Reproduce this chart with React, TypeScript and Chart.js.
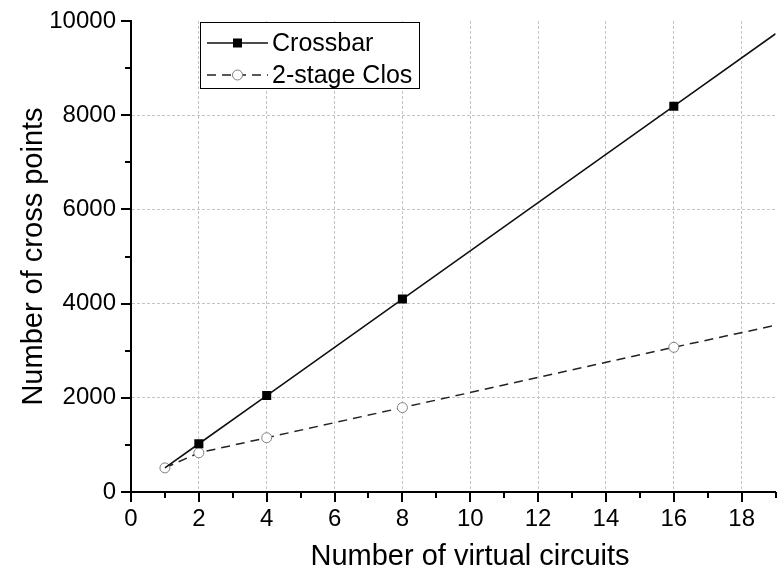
import React, { useEffect, useRef } from 'react';
import { Chart, registerables } from 'chart.js';

Chart.register(...registerables);

const FONT = '"Liberation Sans", Arial, Helvetica, sans-serif';

// Data
const virtualCircuits = [1, 2, 4, 8, 16, 19];
const crossbarPoints = [512, 1024, 2048, 4096, 8192, 9730];
const closPoints = [512, 832, 1152, 1792, 3072, 3540];
const seriesNames = ['Crossbar', '2-stage Clos'];
const xTitle = 'Number of virtual circuits';
const yTitle = 'Number of cross points';
const xRange = [0, 19];
const yRange = [0, 10000];

export default function App() {
  const ref = useRef<HTMLCanvasElement>(null);

  useEffect(() => {
    const canvas = ref.current;
    if (!canvas) return;

    const ticksPlugin = {
      id: 'ticksPlugin',
      afterDraw(chart: any) {
        const { ctx, chartArea, scales } = chart;
        ctx.save();
        ctx.strokeStyle = '#000';
        ctx.lineWidth = 2;
        const sx = scales.x;
        for (const t of sx.ticks) {
          const px = Math.round(sx.getPixelForValue(t.value));
          const len = t.value % 2 === 0 ? 10 : 6;
          ctx.beginPath();
          ctx.moveTo(px, chartArea.bottom);
          ctx.lineTo(px, chartArea.bottom + len);
          ctx.stroke();
        }
        const sy = scales.y;
        for (const t of sy.ticks) {
          const py = Math.round(sy.getPixelForValue(t.value));
          const len = t.value % 2000 === 0 ? 10 : 6;
          ctx.beginPath();
          ctx.moveTo(chartArea.left, py);
          ctx.lineTo(chartArea.left - len, py);
          ctx.stroke();
        }
        // x axis title
        ctx.fillStyle = '#000';
        ctx.font = `29px ${FONT}`;
        ctx.textAlign = 'center';
        ctx.textBaseline = 'alphabetic';
        ctx.fillText(xTitle, 470, 565);
        ctx.restore();
      },
    };

    const legendPlugin = {
      id: 'boxLegend',
      afterDraw(chart: any) {
        const { ctx } = chart;
        const ds = chart.data.datasets;
        ctx.save();
        const bx = 200.5, by = 22.5, bw = 219, bh = 66;
        ctx.fillStyle = '#fff';
        ctx.fillRect(bx, by, bw, bh);
        ctx.strokeStyle = '#000';
        ctx.lineWidth = 1;
        ctx.strokeRect(bx, by, bw, bh);
        const rows = [43, 75];
        ds.forEach((d: any, i: number) => {
          const y = rows[i];
          ctx.save();
          ctx.strokeStyle = d.borderColor;
          ctx.lineWidth = d.borderWidth;
          ctx.setLineDash(d.borderDash || []);
          ctx.beginPath();
          ctx.moveTo(207, y);
          ctx.lineTo(268, y);
          ctx.stroke();
          ctx.restore();
          ctx.save();
          if (d.pointStyle === 'rect') {
            ctx.fillStyle = d.pointBackgroundColor;
            ctx.fillRect(237.5 - 4.5, y - 4.5, 9, 9);
          } else {
            ctx.fillStyle = d.pointBackgroundColor;
            ctx.strokeStyle = d.pointBorderColor;
            ctx.lineWidth = 1;
            ctx.beginPath();
            ctx.arc(237.5, y, 5, 0, Math.PI * 2);
            ctx.fill();
            ctx.stroke();
          }
          ctx.restore();
          ctx.fillStyle = '#000';
          ctx.font = `25px ${FONT}`;
          ctx.textAlign = 'left';
          ctx.textBaseline = 'middle';
          ctx.fillText(d.label, 272, y + 1);
        });
        ctx.restore();
      },
    };

    const zeroPad = (s: any) => {
      s.paddingTop = 0;
      s.paddingBottom = 0;
      s.paddingLeft = 0;
      s.paddingRight = 0;
    };

    const chart = new Chart(canvas, {
      type: 'line',
      data: {
        datasets: [
          {
            label: seriesNames[0],
            data: virtualCircuits.map((x, i) => ({ x, y: crossbarPoints[i] })),
            borderColor: '#111',
            borderWidth: 1.6,
            pointStyle: 'rect',
            pointRadius: [0, 6.4, 6.4, 6.4, 6.4, 0],
            pointBackgroundColor: '#000',
            pointBorderColor: '#000',
            pointBorderWidth: 0,
            fill: false,
            tension: 0,
          },
          {
            label: seriesNames[1],
            data: virtualCircuits.map((x, i) => ({ x, y: closPoints[i] })),
            borderColor: '#222',
            borderWidth: 1.5,
            borderDash: [9, 6],
            pointStyle: 'circle',
            pointRadius: [5, 5, 5, 5, 5, 0],
            pointBackgroundColor: '#fff',
            pointBorderColor: '#808080',
            pointBorderWidth: 1,
            fill: false,
            tension: 0,
          },
        ],
      },
      options: {
        responsive: false,
        animation: false,
        layout: { padding: { top: 21, right: 8.4, left: 0, bottom: 0 } },
        plugins: {
          legend: { display: false },
          tooltip: { enabled: false },
          title: { display: false },
        },
        scales: {
          x: {
            type: 'linear',
            min: xRange[0],
            max: xRange[1],
            afterFit: (s: any) => { s.height = 77; zeroPad(s); },
            ticks: {
              stepSize: 1,
              autoSkip: false,
              maxRotation: 0,
              padding: 13,
              color: '#000',
              font: { family: FONT, size: 24 },
              callback: (v: any) => (Number(v) % 2 === 0 ? String(v) : ''),
            },
            grid: {
              drawTicks: false,
              color: (c: any) => {
                const v = c.tick?.value;
                return v > 0 && v < 19 && v % 2 === 0 ? '#c4c4c4' : 'rgba(0,0,0,0)';
              },
              lineWidth: 1,
            },
            border: { display: true, color: '#000', width: 2, dash: [3, 2] },
          },
          y: {
            type: 'linear',
            min: yRange[0],
            max: yRange[1],
            afterFit: (s: any) => { s.width = 131; zeroPad(s); },
            ticks: {
              stepSize: 1000,
              autoSkip: false,
              padding: 15,
              color: '#000',
              font: { family: FONT, size: 24 },
              callback: (v: any) => (Number(v) % 2000 === 0 ? String(v) : ''),
            },
            grid: {
              drawTicks: false,
              color: (c: any) => {
                const v = c.tick?.value;
                return v > 0 && v < 10000 && v % 2000 === 0 ? '#c4c4c4' : 'rgba(0,0,0,0)';
              },
              lineWidth: 1,
            },
            border: { display: true, color: '#000', width: 2, dash: [3, 2] },
            title: {
              display: true,
              text: yTitle,
              color: '#000',
              font: { family: FONT, size: 29 },
              padding: { top: 17, bottom: 0 },
            },
          },
        },
      },
      plugins: [ticksPlugin, legendPlugin],
    });

    return () => chart.destroy();
  }, []);

  return (
    <canvas
      ref={ref}
      width={784}
      height={569}
      style={{ position: 'fixed', left: 0, top: 0, width: 784, height: 569, display: 'block', background: '#fff' }}
    />
  );
}
